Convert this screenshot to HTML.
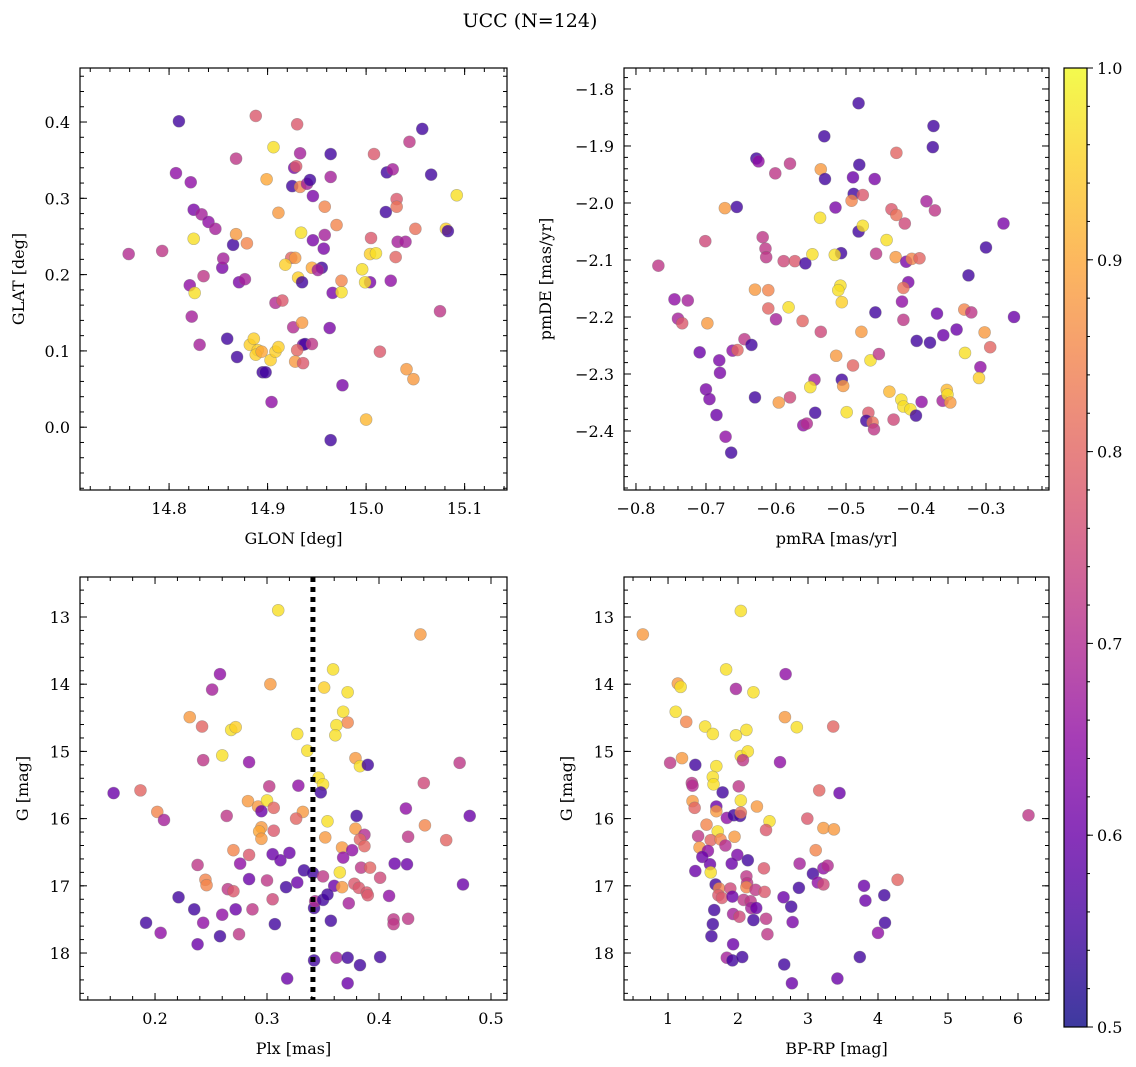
<!DOCTYPE html>
<html><head><meta charset="utf-8">
<style>
html,body{margin:0;padding:0;background:#fff;}
svg{display:block;font-family:"DejaVu Serif","Liberation Serif",serif;}
</style></head>
<body>
<svg id="fig" width="1136" height="1067" viewBox="0 0 1136 1067" xmlns="http://www.w3.org/2000/svg">
<text x="530" y="27" text-anchor="middle" font-size="19">UCC (N=124)</text>
</svg>
<script>
// ---- Panel 1: GLON vs GLAT ----
const p1Lon=[14.759,14.793,14.810,14.807,14.822,14.825,14.825,14.821,14.826,14.823,14.831,14.833,14.840,14.847,14.854,14.855,14.835,14.868,14.865,14.868,14.871,14.877,14.879,14.859,14.869,14.882,14.886,14.890,14.888,14.894,14.895,14.898,14.903,14.908,14.911,14.888,14.899,14.906,14.911,14.908,14.915,14.904,14.927,14.925,14.929,14.930,14.933,14.933,14.940,14.943,14.946,14.934,14.946,14.924,14.928,14.918,14.931,14.935,14.926,14.935,14.936,14.938,14.945,14.930,14.928,14.936,14.945,14.955,14.951,14.958,14.957,14.958,14.964,14.964,14.970,14.966,14.963,14.976,14.964,14.975,14.975,14.996,15.004,15.010,15.004,14.999,15.005,15.008,15.021,15.027,15.031,15.020,15.031,15.032,15.040,15.030,15.025,15.014,15.044,15.057,15.066,15.050,15.041,15.048,15.000,15.075,15.081,15.083,15.092];
const p1Lat=[0.227,0.231,0.401,0.333,0.321,0.285,0.247,0.186,0.176,0.145,0.108,0.279,0.269,0.260,0.209,0.221,0.198,0.352,0.239,0.253,0.190,0.194,0.241,0.116,0.092,0.108,0.116,0.101,0.095,0.099,0.072,0.072,0.088,0.099,0.105,0.408,0.325,0.367,0.281,0.163,0.166,0.033,0.340,0.316,0.342,0.397,0.359,0.315,0.319,0.324,0.303,0.255,0.245,0.222,0.222,0.213,0.196,0.190,0.131,0.137,0.108,0.109,0.109,0.101,0.086,0.084,0.209,0.209,0.206,0.252,0.234,0.289,0.358,0.328,0.265,0.176,0.130,0.055,-0.017,0.177,0.192,0.207,0.227,0.228,0.190,0.190,0.248,0.358,0.334,0.338,0.299,0.282,0.289,0.243,0.243,0.223,0.192,0.099,0.374,0.391,0.331,0.260,0.076,0.063,0.010,0.152,0.260,0.257,0.304];
const p1Prob=[.70,.72,.55,.65,.65,.62,.97,.65,.97,.68,.68,.68,.65,.68,.62,.68,.72,.72,.55,.88,.62,.68,.85,.55,.55,.95,.95,.95,.95,.90,.55,.55,.95,.95,.95,.78,.90,.97,.88,.70,.78,.65,.62,.55,.78,.78,.68,.85,.68,.55,.62,.97,.62,.80,.88,.95,.95,.55,.70,.88,.62,.55,.72,.80,.88,.78,.90,.55,.68,.68,.62,.85,.55,.68,.85,.62,.62,.62,.55,.97,.85,.97,.95,.97,.62,.97,.78,.78,.55,.68,.78,.55,.82,.68,.68,.80,.65,.78,.72,.55,.55,.82,.88,.88,.92,.72,.95,.55,.97];
const p1XTicks=[14.8,14.9,15.0,15.1];
const p1YTicks=[0.0,0.1,0.2,0.3,0.4];

// ---- Panel 2: pmRA vs pmDE ----
const p2RA=[-0.482,-0.375,-0.376,-0.531,-0.428,-0.628,-0.625,-0.580,-0.601,-0.536,-0.530,-0.481,-0.490,-0.459,-0.489,-0.476,-0.492,-0.515,-0.385,-0.373,-0.435,-0.428,-0.416,-0.673,-0.656,-0.537,-0.482,-0.476,-0.442,-0.275,-0.300,-0.701,-0.619,-0.615,-0.614,-0.589,-0.573,-0.558,-0.548,-0.507,-0.516,-0.457,-0.429,-0.414,-0.406,-0.395,-0.768,-0.325,-0.411,-0.418,-0.508,-0.511,-0.506,-0.420,-0.630,-0.611,-0.745,-0.726,-0.582,-0.611,-0.600,-0.562,-0.458,-0.418,-0.370,-0.331,-0.321,-0.260,-0.740,-0.734,-0.698,-0.536,-0.478,-0.399,-0.380,-0.361,-0.342,-0.302,-0.294,-0.330,-0.709,-0.645,-0.635,-0.662,-0.655,-0.681,-0.680,-0.514,-0.490,-0.465,-0.453,-0.308,-0.310,-0.700,-0.695,-0.685,-0.672,-0.664,-0.630,-0.596,-0.580,-0.545,-0.551,-0.506,-0.504,-0.544,-0.561,-0.556,-0.499,-0.468,-0.471,-0.462,-0.460,-0.438,-0.421,-0.418,-0.408,-0.400,-0.392,-0.432,-0.362,-0.356,-0.355,-0.351];
const p2DE=[-1.825,-1.865,-1.902,-1.883,-1.912,-1.922,-1.927,-1.931,-1.948,-1.941,-1.958,-1.933,-1.955,-1.958,-1.984,-1.986,-1.996,-2.008,-1.997,-2.013,-2.011,-2.021,-2.036,-2.009,-2.007,-2.026,-2.050,-2.040,-2.065,-2.036,-2.078,-2.067,-2.060,-2.080,-2.095,-2.102,-2.102,-2.106,-2.090,-2.088,-2.091,-2.089,-2.095,-2.103,-2.098,-2.097,-2.110,-2.127,-2.139,-2.149,-2.145,-2.153,-2.174,-2.173,-2.152,-2.153,-2.169,-2.171,-2.183,-2.185,-2.204,-2.207,-2.192,-2.205,-2.194,-2.187,-2.192,-2.200,-2.203,-2.211,-2.211,-2.226,-2.226,-2.242,-2.245,-2.232,-2.222,-2.227,-2.253,-2.263,-2.262,-2.239,-2.249,-2.259,-2.258,-2.276,-2.298,-2.268,-2.285,-2.276,-2.265,-2.288,-2.307,-2.327,-2.344,-2.372,-2.410,-2.438,-2.341,-2.350,-2.341,-2.310,-2.323,-2.310,-2.321,-2.368,-2.390,-2.387,-2.367,-2.368,-2.382,-2.385,-2.397,-2.331,-2.345,-2.357,-2.362,-2.373,-2.349,-2.380,-2.347,-2.328,-2.336,-2.350];
const p2Prob=[.55,.55,.55,.55,.80,.55,.65,.72,.72,.88,.55,.55,.60,.62,.55,.78,.85,.62,.68,.72,.78,.82,.75,.88,.55,.97,.55,.97,.97,.62,.55,.75,.72,.72,.72,.75,.78,.55,.97,.55,.97,.72,.88,.62,.85,.80,.72,.55,.62,.82,.97,.97,.95,.65,.88,.85,.65,.68,.97,.80,.68,.80,.55,.72,.60,.85,.72,.60,.68,.78,.88,.75,.88,.55,.55,.60,.60,.88,.80,.97,.60,.72,.55,.65,.80,.62,.62,.88,.80,.97,.72,.65,.95,.62,.62,.60,.65,.55,.55,.88,.75,.68,.97,.55,.88,.55,.65,.70,.97,.78,.55,.82,.72,.92,.97,.97,.97,.55,.65,.75,.68,.92,.97,.88];
const p2XTicks=[-0.8,-0.7,-0.6,-0.5,-0.4,-0.3];
const p2YTicks=[-2.4,-2.3,-2.2,-2.1,-2.0,-1.9,-1.8];

// ---- Panel 3: Plx vs G ----
const p3Plx=[0.310,0.437,0.258,0.251,0.303,0.359,0.351,0.372,0.368,0.372,0.362,0.361,0.231,0.242,0.268,0.272,0.327,0.336,0.260,0.243,0.284,0.379,0.383,0.390,0.472,0.163,0.187,0.202,0.208,0.302,0.328,0.346,0.350,0.348,0.440,0.283,0.292,0.300,0.295,0.306,0.332,0.326,0.264,0.380,0.424,0.481,0.354,0.295,0.293,0.295,0.306,0.352,0.379,0.387,0.383,0.387,0.441,0.426,0.460,0.270,0.284,0.276,0.238,0.305,0.312,0.320,0.333,0.341,0.367,0.376,0.368,0.365,0.384,0.392,0.414,0.425,0.401,0.350,0.245,0.246,0.265,0.270,0.284,0.300,0.317,0.327,0.360,0.367,0.378,0.382,0.389,0.390,0.409,0.475,0.221,0.235,0.243,0.192,0.205,0.238,0.258,0.260,0.272,0.275,0.287,0.305,0.307,0.342,0.343,0.350,0.354,0.357,0.373,0.413,0.413,0.426,0.318,0.342,0.362,0.372,0.383,0.401,0.372];
const p3G=[12.90,13.26,13.85,14.08,14.00,13.78,14.05,14.12,14.41,14.57,14.61,14.76,14.49,14.63,14.68,14.64,14.74,14.99,15.06,15.13,15.16,15.10,15.22,15.20,15.17,15.62,15.58,15.90,16.02,15.52,15.51,15.39,15.49,15.61,15.47,15.74,15.82,15.73,15.89,15.84,15.90,16.00,15.96,15.96,15.85,15.96,16.04,16.13,16.19,16.30,16.18,16.28,16.15,16.24,16.31,16.41,16.10,16.27,16.32,16.47,16.54,16.67,16.69,16.53,16.62,16.51,16.77,16.81,16.43,16.47,16.58,16.80,16.73,16.73,16.67,16.68,16.88,16.86,16.91,16.99,17.05,17.08,16.90,16.92,17.02,16.95,17.00,17.02,16.97,17.03,17.10,17.14,17.15,16.98,17.17,17.35,17.55,17.55,17.70,17.87,17.75,17.43,17.35,17.72,17.35,17.20,17.57,17.33,17.23,17.21,17.13,17.52,17.26,17.50,17.57,17.49,18.38,18.11,18.07,18.07,18.18,18.06,18.45];
const p3Prob=[.97,.88,.65,.68,.88,.97,.95,.97,.97,.85,.97,.97,.88,.80,.97,.95,.97,.97,.97,.72,.65,.88,.97,.55,.72,.60,.80,.85,.68,.72,.65,.97,.97,.55,.75,.88,.88,.97,.60,.80,.88,.80,.72,.55,.65,.60,.97,.88,.90,.88,.78,.88,.88,.70,.80,.80,.85,.72,.80,.85,.78,.65,.72,.60,.60,.60,.55,.55,.88,.65,.65,.97,.72,.80,.60,.60,.75,.72,.85,.85,.72,.78,.60,.72,.55,.60,.60,.88,.78,.78,.78,.78,.65,.60,.55,.55,.65,.55,.65,.60,.55,.65,.60,.72,.72,.75,.55,.55,.70,.55,.55,.55,.68,.72,.72,.72,.60,.55,.68,.55,.55,.55,.60];
const p3XTicks=[0.2,0.3,0.4,0.5];
const p3YTicks=[13,14,15,16,17,18];
const p3PlxLine=[0.341];

// ---- Panel 4: BP-RP vs G ----
const p4BPRP=[2.04,0.64,1.83,2.68,1.14,1.18,1.97,2.22,1.11,1.26,1.53,1.64,1.97,2.12,2.67,2.84,3.36,1.03,1.20,1.39,1.69,2.04,2.14,2.07,2.60,1.64,1.65,1.34,1.35,1.78,2.01,3.16,3.45,2.04,2.27,1.35,1.38,1.69,1.69,1.84,1.94,2.03,2.04,2.45,2.99,3.22,3.37,6.15,1.55,1.71,1.43,1.61,1.75,1.95,1.82,1.45,1.57,1.49,1.60,1.39,1.61,1.99,2.14,1.91,2.40,2.37,3.11,2.88,3.07,3.22,3.28,3.14,3.22,4.28,1.68,1.73,1.89,1.72,1.77,1.92,2.12,2.13,2.12,2.25,2.38,2.87,2.65,2.76,2.08,2.18,2.19,2.26,1.93,2.02,2.22,2.40,2.42,2.78,1.66,1.64,1.62,3.80,3.82,4.09,4.10,4.00,1.93,1.84,1.92,2.06,2.66,2.77,3.42,3.74];
const p4G=[12.91,13.26,13.78,13.85,13.99,14.04,14.07,14.12,14.41,14.56,14.63,14.74,14.76,14.68,14.49,14.64,14.63,15.17,15.10,15.20,15.22,15.07,15.00,15.13,15.16,15.38,15.49,15.47,15.51,15.61,15.52,15.58,15.62,15.73,15.82,15.74,15.84,15.82,15.89,15.99,15.95,15.96,15.91,16.04,16.00,16.14,16.16,15.95,16.09,16.19,16.26,16.32,16.31,16.27,16.40,16.43,16.48,16.57,16.68,16.78,16.80,16.54,16.62,16.67,16.17,16.74,16.47,16.67,16.82,16.74,16.70,16.95,16.98,16.91,16.98,17.04,17.04,17.14,17.18,17.16,16.86,16.96,17.02,17.06,17.09,17.03,17.17,17.31,17.21,17.23,17.33,17.33,17.42,17.46,17.51,17.49,17.72,17.54,17.36,17.57,17.75,17.00,17.22,17.14,17.55,17.70,17.87,18.07,18.11,18.06,18.17,18.45,18.38,18.06];
const p4Prob=[.97,.88,.97,.65,.88,.97,.68,.97,.97,.85,.97,.97,.97,.97,.88,.97,.80,.72,.88,.55,.97,.97,.97,.72,.65,.97,.97,.72,.70,.55,.72,.80,.60,.97,.88,.88,.80,.60,.88,.65,.55,.55,.82,.97,.78,.88,.88,.72,.85,.97,.72,.80,.85,.88,.70,.88,.65,.60,.60,.60,.97,.62,.55,.60,.78,.78,.85,.68,.55,.65,.70,.65,.75,.80,.55,.85,.75,.78,.78,.60,.72,.72,.85,.72,.78,.55,.60,.55,.72,.72,.68,.60,.68,.75,.55,.72,.72,.62,.55,.55,.55,.60,.60,.55,.55,.65,.60,.68,.55,.55,.55,.60,.60,.55];
const p4XTicks=[1,2,3,4,5,6];
const p4YTicks=[13,14,15,16,17,18];

// ---- Colorbar ----
const cbTicks=[0.5,0.6,0.7,0.8,0.9,1.0];
const cbMin=0.5, cbMax=1.0;

const NS="http://www.w3.org/2000/svg";
const svg=document.getElementById('fig');
function mk(tag,attrs,parent){const e=document.createElementNS(NS,tag);for(const k in attrs)e.setAttribute(k,attrs[k]);(parent||svg).appendChild(e);return e;}

const plasmaStops=["#0d0887","#41049d","#6a00a8","#8f0da4","#b12a90","#cc4778","#e16462","#f2844b","#fca636","#fcce25","#f0f921"];
function hex2rgb(h){return [parseInt(h.slice(1,3),16),parseInt(h.slice(3,5),16),parseInt(h.slice(5,7),16)];}
function plasma(t){t=Math.max(0,Math.min(1,t));const f=t*10,i=Math.min(9,Math.floor(f)),r=f-i;const a=hex2rgb(plasmaStops[i]),b=hex2rgb(plasmaStops[i+1]);return 'rgb('+a.map((v,k)=>Math.round(v+(b[k]-v)*r)).join(',')+')';}
function cmap(v){return plasma((v-cbMin)/(cbMax-cbMin));}

function fmt(v,dec){return (v<0?'\u2212':'')+Math.abs(v).toFixed(dec);}

function panel(cfg){
  const g=mk('g',{});
  
  
  const {x0,x1,y0,y1,xmin,xmax,ymin,ymax,inv}=cfg;
  const sx=v=>x0+(v-xmin)/(xmax-xmin)*(x1-x0);
  const sy=v=>inv? y0+(v-ymin)/(ymax-ymin)*(y1-y0) : y1-(v-ymin)/(ymax-ymin)*(y1-y0);
  const tg=mk('g',{stroke:'#000','stroke-width':1},g);
  function xtick(v,len){const X=sx(v);if(X<x0-0.5||X>x1+0.5)return;mk('line',{x1:X,y1:y1,x2:X,y2:y1-len},tg);mk('line',{x1:X,y1:y0,x2:X,y2:y0+len},tg);}
  function ytick(v,len){const Y=sy(v);if(Y<y0-0.5||Y>y1+0.5)return;mk('line',{x1:x0,y1:Y,x2:x0+len,y2:Y},tg);mk('line',{x1:x1,y1:Y,x2:x1-len,y2:Y},tg);}
  const xs=cfg.xMinor, ys=cfg.yMinor;
  for(let v=Math.ceil(xmin/xs)*xs; v<=xmax; v+=xs) xtick(v,4);
  for(let v=Math.ceil(ymin/ys)*ys; v<=ymax; v+=ys) ytick(v,4);
  cfg.xTicks.forEach(v=>xtick(v,7));
  cfg.yTicks.forEach(v=>ytick(v,7));
  cfg.xTicks.forEach(v=>{const t=mk('text',{x:sx(v),y:y1+24,'text-anchor':'middle','font-size':16},g);t.textContent=cfg.xFmt(v);
    
    });
  cfg.yTicks.forEach(v=>{const t=mk('text',{x:x0-10,y:sy(v)+6,'text-anchor':'end','font-size':16},g);t.textContent=cfg.yFmt(v);
    
    });
  const xl=mk('text',{x:(x0+x1)/2,y:y1+54,'text-anchor':'middle','font-size':16},g);xl.textContent=cfg.xLabel;
  
  
  const yx=cfg.yLabelX, yy=(y0+y1)/2;
  const yl=mk('text',{x:yx,y:yy,'text-anchor':'middle','font-size':16,transform:`rotate(-90 ${yx} ${yy})`},g);yl.textContent=cfg.yLabel;
  
  
  const clipId='clip'+cfg.name;
  const cp=mk('clipPath',{id:clipId},g);mk('rect',{x:x0,y:y0,width:x1-x0,height:y1-y0},cp);
  const pg=mk('g',{'clip-path':`url(#${clipId})`},g);
  const n=Math.min(cfg.xs.length,cfg.ys.length,cfg.cs.length);
  for(let i=0;i<n;i++){
    const c=mk('circle',{cx:sx(cfg.xs[i]),cy:sy(cfg.ys[i]),r:6,fill:cmap(cfg.cs[i]),'fill-opacity':0.8,stroke:'#777','stroke-opacity':0.5,'stroke-width':0.6},pg);
    
    
  }
  if(cfg.vline){cfg.vline.forEach(v=>{const l=mk('line',{x1:sx(v),x2:sx(v),y1:y0,y2:y1,stroke:'#000','stroke-width':5,'stroke-dasharray':'5 5'},g);
    
    });}
  const fr=mk('rect',{x:x0,y:y0,width:x1-x0,height:y1-y0,fill:'none',stroke:'#000','stroke-width':1.2},g);
  
  
}

panel({name:'panel-glon-glat',x0:80,x1:507,y0:68,y1:490,xmin:14.7096,xmax:15.143,ymin:-0.0823,ymax:0.4708,inv:false,
  xMinor:0.02,yMinor:0.02,xTicks:p1XTicks,yTicks:p1YTicks,xFmt:v=>fmt(v,1),yFmt:v=>fmt(v,1),
  xLabel:'GLON [deg]',yLabel:'GLAT [deg]',yLabelX:24,xs:p1Lon,ys:p1Lat,cs:p1Prob});
panel({name:'panel-pmra-pmde',x0:624,x1:1049,y0:68,y1:490,xmin:-0.8171,xmax:-0.2100,ymin:-2.5035,ymax:-1.7632,inv:false,
  xMinor:0.02,yMinor:0.02,xTicks:p2XTicks,yTicks:p2YTicks,xFmt:v=>fmt(v,1),yFmt:v=>fmt(v,1),
  xLabel:'pmRA [mas/yr]',yLabel:'pmDE [mas/yr]',yLabelX:551,xs:p2RA,ys:p2DE,cs:p2Prob});
panel({name:'panel-plx-g',x0:80,x1:507,y0:577,y1:1000,xmin:0.1330,xmax:0.5143,ymin:12.405,ymax:18.699,inv:true,
  xMinor:0.02,yMinor:0.2,xTicks:p3XTicks,yTicks:p3YTicks,xFmt:v=>v.toFixed(1),yFmt:v=>String(v),
  xLabel:'Plx [mas]',yLabel:'G [mag]',yLabelX:28,xs:p3Plx,ys:p3G,cs:p3Prob,vline:p3PlxLine});
panel({name:'panel-bprp-g',x0:624,x1:1049,y0:577,y1:1000,xmin:0.371,xmax:6.443,ymin:12.405,ymax:18.699,inv:true,
  xMinor:0.25,yMinor:0.2,xTicks:p4XTicks,yTicks:p4YTicks,xFmt:v=>String(v),yFmt:v=>String(v),
  xLabel:'BP-RP [mag]',yLabel:'G [mag]',yLabelX:572,xs:p4BPRP,ys:p4G,cs:p4Prob});

(function(){
  const cx0=1064,cx1=1087,cy0=68,cy1=1027;
  const g=mk('g',{});
  
  
  const defs=mk('defs',{},g);
  const lg=mk('linearGradient',{id:'cbgrad',x1:0,y1:1,x2:0,y2:0},defs);
  for(let i=0;i<=20;i++){const t=i/20;mk('stop',{offset:t,'stop-color':plasma(t),'stop-opacity':0.8},lg);}
  mk('rect',{x:cx0,y:cy0,width:cx1-cx0,height:cy1-cy0,fill:'url(#cbgrad)'},g);
  const sy=v=>cy1-(v-cbMin)/(cbMax-cbMin)*(cy1-cy0);
  for(let k=0;k<=25;k++){const v=cbMin+k*0.02;const Y=sy(v);mk('line',{x1:cx1,x2:cx1+3,y1:Y,y2:Y,stroke:'#000','stroke-width':1},g);}
  cbTicks.forEach(v=>{const Y=sy(v);mk('line',{x1:cx1,x2:cx1+6,y1:Y,y2:Y,stroke:'#000','stroke-width':1},g);
    const t=mk('text',{x:cx1+10,y:Y+6,'font-size':16},g);t.textContent=v.toFixed(1);
    
    });
  mk('rect',{x:cx0,y:cy0,width:cx1-cx0,height:cy1-cy0,fill:'none',stroke:'#000','stroke-width':1.2},g);
})();
</script>
</body></html>
